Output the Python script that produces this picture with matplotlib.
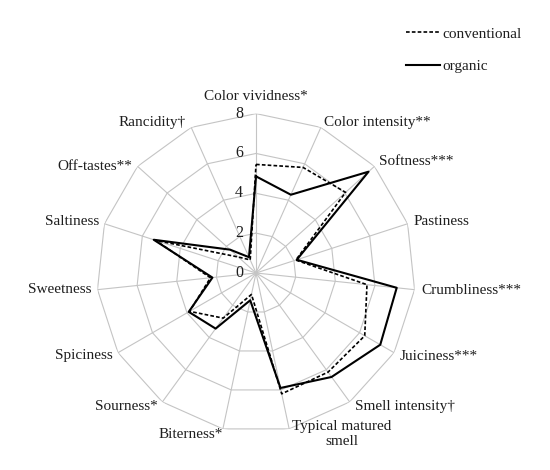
"""Radar chart of sensory attributes: conventional vs organic."""
import matplotlib
matplotlib.use("Agg")
import matplotlib.pyplot as plt
import numpy as np

plt.rcParams["font.family"] = ["Liberation Serif", "DejaVu Serif"]
plt.rcParams["font.size"] = 11

categories = [
    "Color vividness*", "Color intensity**", "Softness***", "Pastiness",
    "Crumbliness***", "Juiciness***", "Smell intensity\u2020",
    "Typical matured\nsmell", "Biterness*", "Sourness*", "Spiciness",
    "Sweetness", "Saltiness", "Off-tastes**", "Rancidity\u2020",
]
conventional = [5.45, 5.8, 6.05, 2.1, 5.6, 6.3, 6.15, 6.2, 1.1, 2.8, 3.85, 2.3, 5.3, 1.2, 0.72]
organic = [4.85, 4.3, 7.6, 2.15, 7.1, 7.2, 6.45, 5.9, 1.4, 3.45, 3.9, 2.2, 5.4, 1.75, 0.87]
series_labels = ["conventional", "organic"]
ring_levels = [2, 4, 6, 8]
tick_labels = ["0", "2", "4", "6", "8"]

# label placement: (dx, dy) offset in pixels from spoke end, horizontal alignment
label_layout = [
    (0, 17, "center"), (3, 5, "left"), (5, 5, "left"), (6, 2, "left"),
    (7, -1, "left"), (6, -4, "left"), (5, -5, "left"), (3, -5, "left"),
    (0, -6, "right"), (-5, -5, "right"), (-5, -3, "right"), (-6, 0, "right"),
    (-5, 2, "right"), (-5, 0, "right"), (-5, 5, "right"),
]

GRID = "#c4c4c4"
TEXT = "#1e1e1e"

fig = plt.figure(figsize=(5.5, 4.7), dpi=100)
ax = fig.add_axes([0.1757, 0.0800, 0.5796, 0.6783], projection="polar")
ax.set_theta_zero_location("N")
ax.set_theta_direction(-1)
ax.axis("off")

n = len(categories)
angles = np.linspace(0, 2 * np.pi, n, endpoint=False)
closed = np.append(angles, angles[0])

for r in ring_levels:
    ax.plot(closed, [r] * (n + 1), color=GRID, lw=0.8, zorder=1)
for a in angles:
    ax.plot([a, a], [0, ring_levels[-1]], color=GRID, lw=0.8, zorder=1)

h_conv, = ax.plot(closed, conventional + conventional[:1], color="black",
                  lw=1.2, dashes=(2.2, 1.3), zorder=3)
h_org, = ax.plot(closed, organic + organic[:1], color="black", lw=1.5, zorder=4)
ax.set_ylim(0, ring_levels[-1])

for i, t in enumerate(tick_labels):
    ax.annotate(t, xy=(0, i * 2), xytext=(-13, 0), textcoords="offset pixels",
                ha="right", va="center", fontsize=11.5, color=TEXT)

for a, lab, (dx, dy, ha) in zip(angles, categories, label_layout):
    ax.annotate(lab, xy=(a, ring_levels[-1]), xytext=(dx, dy),
                textcoords="offset pixels", ha=ha, va="center",
                multialignment="center", fontsize=11, color=TEXT,
                annotation_clip=False)

fig.legend([h_conv, h_org], series_labels, loc="upper left",
           bbox_to_anchor=(406 / 550, 1 - 27 / 470), frameon=False,
           handlelength=2.2, handletextpad=0.2, labelspacing=1.25,
           borderpad=0, borderaxespad=0, fontsize=11, labelcolor=TEXT)

fig.savefig("out.png", dpi=100)
